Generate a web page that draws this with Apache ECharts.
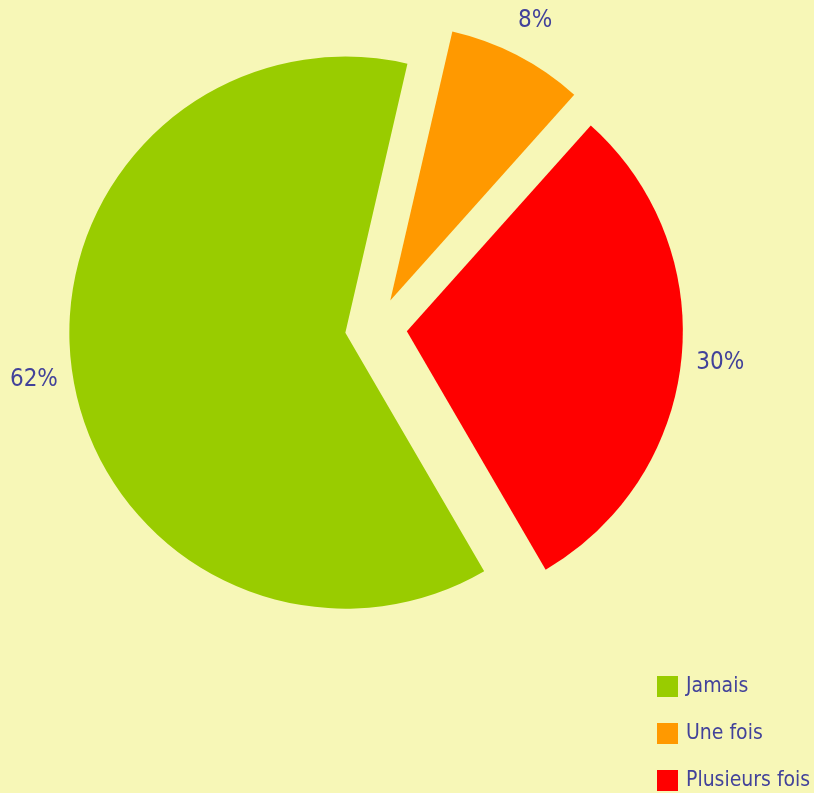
<!DOCTYPE html>
<html>
<head>
<meta charset="utf-8">
<script src="https://cdn.jsdelivr.net/npm/echarts@6/dist/echarts.min.js"></script>
<style>
html,body{margin:0;padding:0;background:#F7F7B7;}
#chart{width:814px;height:793px;}
</style>
</head>
<body>
<div id="chart"></div>
<script>
const categories = ['Jamais', 'Une fois', 'Plusieurs fois'];
const values = [62, 8, 30];
const colors = ['#99CC00', '#FF9900', '#FF0000'];

const FONT = '"Liberation Sans Narrow", "DejaVu Sans Condensed", sans-serif';
const TEXT = '#42429A';

const chart = echarts.init(document.getElementById('chart'));
const pieData = categories.map((n, i) => ({ name: n, value: values[i], selected: true, itemStyle: { color: colors[i] } }));
const labelData = categories.map((n, i) => ({ name: n, value: values[i], selected: true }));

chart.setOption({
  backgroundColor: '#F7F7B7',
  animation: false,
  legend: {
    orient: 'vertical',
    left: 657,
    bottom: 2,
    padding: 0,
    data: categories,
    icon: 'rect',
    itemWidth: 21,
    itemHeight: 21,
    itemGap: 26,
    textStyle: { fontFamily: FONT, fontSize: 21, lineHeight: 21, color: TEXT, padding: [0, 0, 0, 3] }
  },
  series: [
    {
      type: 'pie',
      center: [376, 328],
      radius: 276,
      startAngle: -59.8,
      clockwise: true,
      selectedMode: 'multiple',
      selectedOffset: 31,
      avoidLabelOverlap: false,
      silent: true,
      label: { show: false },
      labelLine: { show: false },
      select: { itemStyle: { borderWidth: 0 } },
      data: pieData
    },
    {
      type: 'pie',
      center: [376, 328],
      radius: [300, 324],
      startAngle: -59.8,
      clockwise: true,
      selectedMode: 'multiple',
      selectedOffset: 31,
      avoidLabelOverlap: false,
      silent: true,
      itemStyle: { color: 'rgba(0,0,0,0)' },
      select: { itemStyle: { color: 'rgba(0,0,0,0)', borderWidth: 0 } },
      label: {
        show: true,
        position: 'inside',
        formatter: '{d}%',
        fontFamily: FONT,
        fontSize: 24,
        color: TEXT
      },
      labelLine: { show: false },
      data: labelData
    }
  ]
});
</script>
</body>
</html>
